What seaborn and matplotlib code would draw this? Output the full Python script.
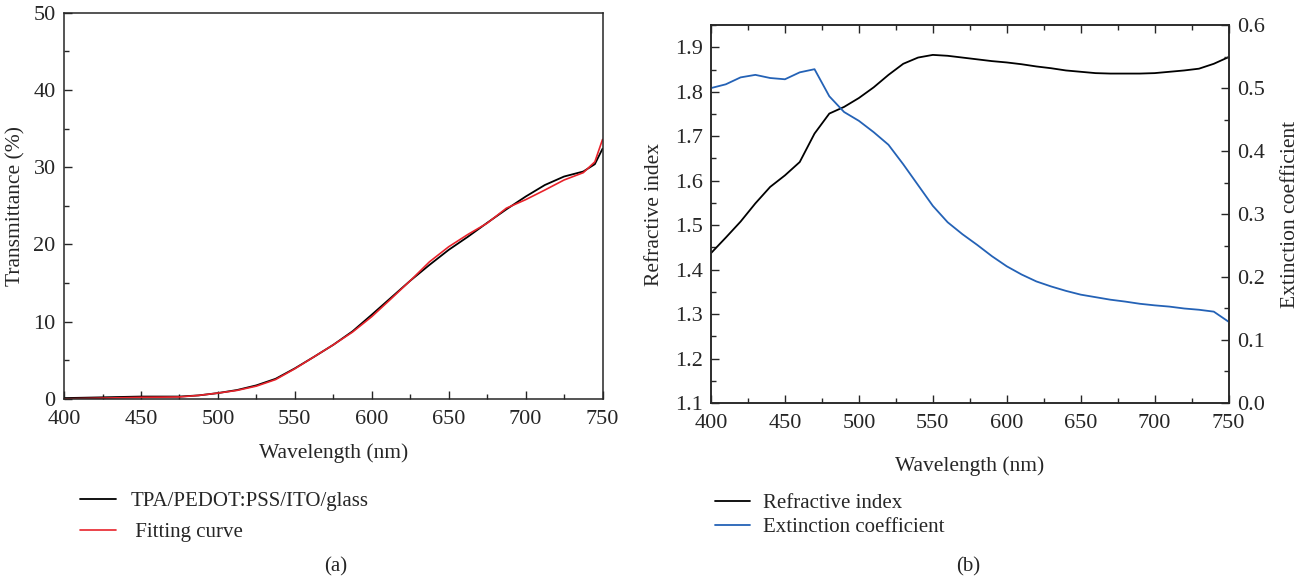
import matplotlib
matplotlib.use("Agg")
import matplotlib.pyplot as plt
from matplotlib.ticker import MultipleLocator
import numpy as np
import pandas as pd
import seaborn as sns

# panel (a): transmittance
wl_a = [400, 412.5, 425, 437.5, 450, 462.5, 475, 487.5, 500, 512.5, 525, 537.5, 550, 562.5,
        575, 587.5, 600, 612.5, 625, 637.5, 650, 662.5, 675, 687.5, 700, 712.5, 725, 737.5,
        745, 750]
trans_meas = [0.1, 0.15, 0.2, 0.25, 0.3, 0.3, 0.3, 0.45, 0.75, 1.15, 1.75, 2.6, 3.95, 5.45,
              7.0, 8.75, 10.9, 13.1, 15.3, 17.35, 19.3, 21.0, 22.8, 24.55, 26.2, 27.7, 28.8,
              29.45, 30.4, 32.4]
trans_fit = [0.0, 0.05, 0.1, 0.15, 0.2, 0.22, 0.25, 0.45, 0.75, 1.1, 1.65, 2.5, 3.9, 5.45,
             7.0, 8.65, 10.65, 12.95, 15.3, 17.75, 19.7, 21.3, 22.75, 24.7, 25.8, 27.05, 28.35,
             29.3, 30.7, 33.6]

# panel (b): optical constants, 10 nm steps
wl_b = list(range(400, 751, 10))
n_index = [1.437, 1.472, 1.508, 1.549, 1.586, 1.612, 1.642, 1.706, 1.751, 1.766,
           1.786, 1.810, 1.838, 1.863, 1.877, 1.883, 1.881, 1.877, 1.873, 1.869,
           1.866, 1.862, 1.857, 1.853, 1.848, 1.845, 1.842, 1.841, 1.841, 1.841,
           1.842, 1.845, 1.848, 1.852, 1.863, 1.878]
k_ext = [0.500, 0.506, 0.517, 0.521, 0.516, 0.514, 0.525, 0.530, 0.487, 0.462,
         0.448, 0.430, 0.410, 0.379, 0.346, 0.313, 0.287, 0.268, 0.251, 0.233,
         0.217, 0.204, 0.193, 0.185, 0.178, 0.172, 0.168, 0.164, 0.161, 0.1575,
         0.155, 0.153, 0.150, 0.148, 0.145, 0.129]

sns.set_style("ticks")
plt.rcParams['font.family'] = ['Liberation Serif', 'DejaVu Serif']
plt.rcParams['font.size'] = 15
plt.rcParams['xtick.direction'] = 'in'
plt.rcParams['ytick.direction'] = 'in'

df_a = pd.DataFrame({'wl': wl_a, 'meas': trans_meas, 'fit': trans_fit})
df_b = pd.DataFrame({'wl': wl_b, 'n': n_index, 'k': k_ext})

fig = plt.figure(figsize=(13.07, 5.84), dpi=100)
ax1 = fig.add_axes([0.049, 0.317, 0.412, 0.661])
ax2 = fig.add_axes([0.544, 0.310, 0.396, 0.647])

red = '#e8232b'
blue = '#2462b6'
tick_fs = 16
lab_fs = 15.5

# (a)
sns.lineplot(data=df_a, x='wl', y='meas', ax=ax1, color='black', lw=1.3,
             label='TPA/PEDOT:PSS/ITO/glass')
sns.lineplot(data=df_a, x='wl', y='fit', ax=ax1, color=red, lw=1.2, label=' Fitting curve')
ax1.set_xlim(400, 750)
ax1.set_ylim(0, 50)
ax1.xaxis.set_major_locator(MultipleLocator(50))
ax1.xaxis.set_minor_locator(MultipleLocator(25))
ax1.yaxis.set_major_locator(MultipleLocator(10))
ax1.yaxis.set_minor_locator(MultipleLocator(5))
ax1.tick_params(which='major', length=6, width=1, labelsize=tick_fs, pad=6)
ax1.tick_params(axis='x', which='major', pad=8)
ax1.tick_params(which='minor', length=3.5, width=1)
ax1.set_xlabel('Wavelength (nm)', fontsize=lab_fs, labelpad=10)
ax1.set_ylabel('Transmittance (%)', fontsize=lab_fs, labelpad=6)
for s in ax1.spines.values():
    s.set_linewidth(1.1)
ax1.legend(loc='upper left', bbox_to_anchor=(0.047, 0.19), bbox_transform=fig.transFigure,
           frameon=False, fontsize=15, handlelength=1.7, handletextpad=0.7, labelspacing=0.55)

# (b)
ax3 = ax2.twinx()
sns.lineplot(data=df_b, x='wl', y='n', ax=ax2, color='black', lw=1.3, legend=False)
sns.lineplot(data=df_b, x='wl', y='k', ax=ax3, color=blue, lw=1.3, legend=False)
ax2.set_xlim(400, 750)
ax2.set_ylim(1.1, 1.95)
ax3.set_ylim(0.0, 0.6)
ax2.xaxis.set_major_locator(MultipleLocator(50))
ax2.xaxis.set_minor_locator(MultipleLocator(25))
ax2.yaxis.set_major_locator(MultipleLocator(0.1))
ax2.yaxis.set_minor_locator(MultipleLocator(0.05))
ax3.yaxis.set_major_locator(MultipleLocator(0.1))
ax3.yaxis.set_minor_locator(MultipleLocator(0.05))
ax2.yaxis.set_major_formatter(plt.FormatStrFormatter('%.1f'))
ax3.yaxis.set_major_formatter(plt.FormatStrFormatter('%.1f'))
ax2.tick_params(which='both', top=True)
ax2.tick_params(which='major', length=6, width=1, labelsize=tick_fs, pad=6)
ax2.tick_params(axis='x', which='major', pad=8)
ax2.tick_params(which='minor', length=3.5, width=1)
ax3.tick_params(which='major', length=6, width=1, labelsize=tick_fs, pad=6)
ax3.tick_params(which='minor', length=3.5, width=1)
ax2.set_xlabel('Wavelength (nm)', fontsize=lab_fs, labelpad=17)
ax2.set_ylabel('Refractive index', fontsize=lab_fs, labelpad=8)
ax3.set_ylabel('Extinction coefficient', fontsize=lab_fs, labelpad=12)
for s in list(ax2.spines.values()) + list(ax3.spines.values()):
    s.set_linewidth(1.1)
handles = ax2.get_lines() + ax3.get_lines()
fig.legend(handles, ['Refractive index', 'Extinction coefficient'], loc='upper left',
           bbox_to_anchor=(0.5325, 0.187), frameon=False, fontsize=15,
           handlelength=1.7, handletextpad=0.6, labelspacing=0.2)

fig.text(0.257, 0.03, '(a)', ha='center', va='center', fontsize=15)
fig.text(0.741, 0.03, '(b)', ha='center', va='center', fontsize=15)

fig.savefig('out.png', dpi=100)
